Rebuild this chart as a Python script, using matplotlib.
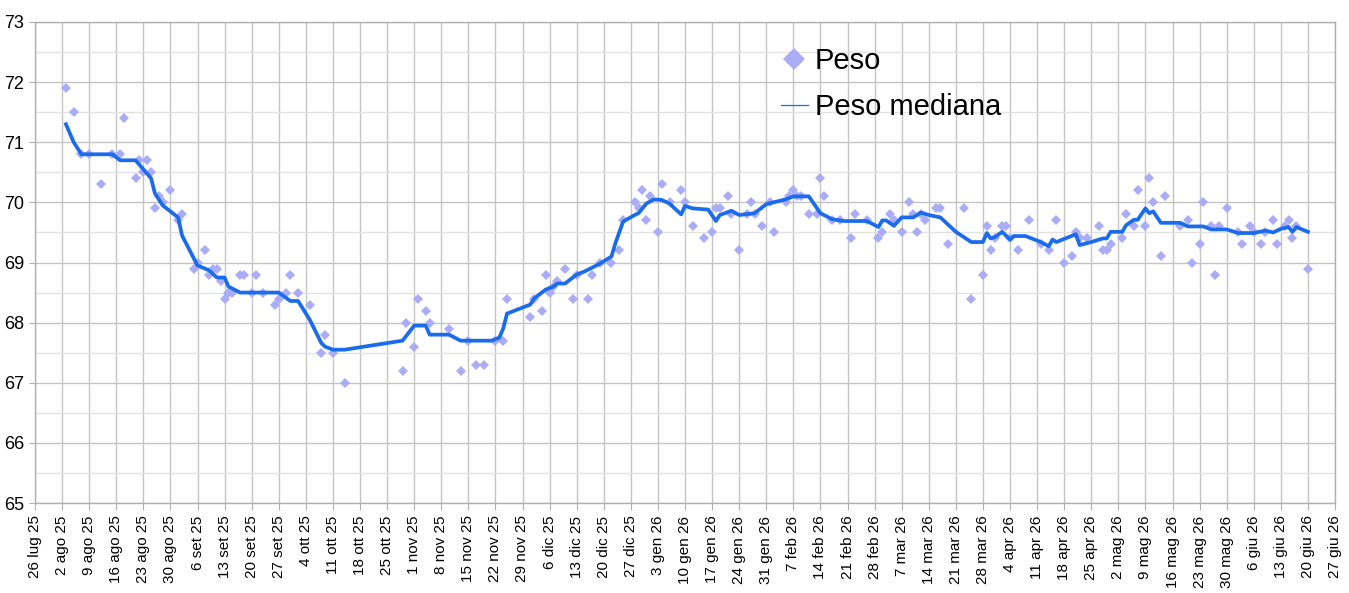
import datetime
import matplotlib
matplotlib.use("Agg")
import matplotlib.pyplot as plt
from matplotlib.ticker import MultipleLocator

# daily weigh-ins (date, kg)
peso_dates = [
    "2025-08-03", "2025-08-05", "2025-08-07", "2025-08-09", "2025-08-12", "2025-08-15",
    "2025-08-17", "2025-08-18", "2025-08-21", "2025-08-22", "2025-08-23", "2025-08-24",
    "2025-08-25", "2025-08-26", "2025-08-27", "2025-08-28", "2025-08-30", "2025-09-01",
    "2025-09-02", "2025-09-05", "2025-09-06", "2025-09-08", "2025-09-09", "2025-09-10",
    "2025-09-11", "2025-09-12", "2025-09-13", "2025-09-14", "2025-09-15", "2025-09-17",
    "2025-09-18", "2025-09-20", "2025-09-21", "2025-09-23", "2025-09-26", "2025-09-27",
    "2025-09-29", "2025-09-30", "2025-10-02", "2025-10-05", "2025-10-08", "2025-10-09",
    "2025-10-11", "2025-10-14", "2025-10-29", "2025-10-30", "2025-11-01", "2025-11-02",
    "2025-11-04", "2025-11-05", "2025-11-10", "2025-11-13", "2025-11-15", "2025-11-17",
    "2025-11-19", "2025-11-22", "2025-11-24", "2025-11-25", "2025-12-01", "2025-12-02",
    "2025-12-04", "2025-12-05", "2025-12-06", "2025-12-07", "2025-12-08", "2025-12-10",
    "2025-12-12", "2025-12-13", "2025-12-16", "2025-12-17", "2025-12-19", "2025-12-22",
    "2025-12-24", "2025-12-25", "2025-12-28", "2025-12-29", "2025-12-30", "2025-12-31",
    "2026-01-01", "2026-01-03", "2026-01-04", "2026-01-06", "2026-01-09", "2026-01-10",
    "2026-01-12", "2026-01-15", "2026-01-17", "2026-01-18", "2026-01-19", "2026-01-21",
    "2026-01-22", "2026-01-24", "2026-01-26", "2026-01-27", "2026-01-28", "2026-01-30",
    "2026-02-01", "2026-02-02", "2026-02-05", "2026-02-06", "2026-02-07", "2026-02-08",
    "2026-02-09", "2026-02-11", "2026-02-13", "2026-02-14", "2026-02-15", "2026-02-17",
    "2026-02-19", "2026-02-22", "2026-02-23", "2026-02-26", "2026-03-01", "2026-03-02",
    "2026-03-04", "2026-03-05", "2026-03-07", "2026-03-09", "2026-03-10", "2026-03-11",
    "2026-03-12", "2026-03-13", "2026-03-16", "2026-03-17", "2026-03-19", "2026-03-23",
    "2026-03-25", "2026-03-28", "2026-03-29", "2026-03-30", "2026-03-31", "2026-04-02",
    "2026-04-03", "2026-04-04", "2026-04-06", "2026-04-09", "2026-04-12", "2026-04-14",
    "2026-04-16", "2026-04-18", "2026-04-20", "2026-04-21", "2026-04-22", "2026-04-24",
    "2026-04-27", "2026-04-28", "2026-04-29", "2026-04-30", "2026-05-03", "2026-05-04",
    "2026-05-06", "2026-05-07", "2026-05-09", "2026-05-10", "2026-05-11", "2026-05-13",
    "2026-05-14", "2026-05-18", "2026-05-20", "2026-05-21", "2026-05-23", "2026-05-24",
    "2026-05-26", "2026-05-27", "2026-05-28", "2026-05-30", "2026-06-02", "2026-06-03",
    "2026-06-05", "2026-06-06", "2026-06-08", "2026-06-09", "2026-06-11", "2026-06-12",
    "2026-06-14", "2026-06-15", "2026-06-16", "2026-06-17", "2026-06-20",
]
peso = [
    71.9, 71.5, 70.8, 70.8, 70.3, 70.8,
    70.8, 71.4, 70.4, 70.7, 70.5, 70.7,
    70.5, 69.9, 70.1, 70.0, 70.2, 69.7,
    69.8, 68.9, 69.0, 69.2, 68.8, 68.9,
    68.9, 68.7, 68.4, 68.5, 68.5, 68.8,
    68.8, 68.5, 68.8, 68.5, 68.3, 68.4,
    68.5, 68.8, 68.5, 68.3, 67.5, 67.8,
    67.5, 67.0, 67.2, 68.0, 67.6, 68.4,
    68.2, 68.0, 67.9, 67.2, 67.7, 67.3,
    67.3, 67.7, 67.7, 68.4, 68.1, 68.4,
    68.2, 68.8, 68.5, 68.6, 68.7, 68.9,
    68.4, 68.8, 68.4, 68.8, 69.0, 69.0,
    69.2, 69.7, 70.0, 69.9, 70.2, 69.7,
    70.1, 69.5, 70.3, 70.0, 70.2, 70.0,
    69.6, 69.4, 69.5, 69.9, 69.9, 70.1,
    69.8, 69.2, 69.8, 70.0, 69.8, 69.6,
    70.0, 69.5, 70.0, 70.1, 70.2, 70.1,
    70.1, 69.8, 69.8, 70.4, 70.1, 69.7,
    69.7, 69.4, 69.8, 69.7, 69.4, 69.5,
    69.8, 69.7, 69.5, 70.0, 69.8, 69.5,
    69.8, 69.7, 69.9, 69.9, 69.3, 69.9,
    68.4, 68.8, 69.6, 69.2, 69.4, 69.6,
    69.6, 69.4, 69.2, 69.7, 69.3, 69.2,
    69.7, 69.0, 69.1, 69.5, 69.4, 69.4,
    69.6, 69.2, 69.2, 69.3, 69.4, 69.8,
    69.6, 70.2, 69.6, 70.4, 70.0, 69.1,
    70.1, 69.6, 69.7, 69.0, 69.3, 70.0,
    69.6, 68.8, 69.6, 69.9, 69.5, 69.3,
    69.6, 69.5, 69.3, 69.5, 69.7, 69.3,
    69.6, 69.7, 69.4, 69.6, 68.9,
]

# running median line
mediana_dates = [
    "2025-08-03", "2025-08-05", "2025-08-07", "2025-08-15", "2025-08-17", "2025-08-21",
    "2025-08-23", "2025-08-25", "2025-08-26", "2025-08-28", "2025-09-01", "2025-09-02",
    "2025-09-06", "2025-09-09", "2025-09-11", "2025-09-13", "2025-09-14", "2025-09-17",
    "2025-09-27", "2025-09-30", "2025-10-02", "2025-10-05", "2025-10-08", "2025-10-09",
    "2025-10-11", "2025-10-14", "2025-10-29", "2025-11-01", "2025-11-04", "2025-11-05",
    "2025-11-10", "2025-11-13", "2025-11-21", "2025-11-23", "2025-11-24", "2025-11-25",
    "2025-12-01", "2025-12-02", "2025-12-05", "2025-12-07", "2025-12-08", "2025-12-10",
    "2025-12-13", "2025-12-15", "2025-12-19", "2025-12-22", "2025-12-23", "2025-12-25",
    "2025-12-28", "2025-12-29", "2025-12-31", "2026-01-02", "2026-01-04", "2026-01-06",
    "2026-01-09", "2026-01-10", "2026-01-12", "2026-01-16", "2026-01-18", "2026-01-19",
    "2026-01-22", "2026-01-24", "2026-01-28", "2026-01-31", "2026-02-05", "2026-02-07",
    "2026-02-11", "2026-02-14", "2026-02-17", "2026-02-20", "2026-02-26", "2026-03-01",
    "2026-03-02", "2026-03-03", "2026-03-05", "2026-03-07", "2026-03-10", "2026-03-12",
    "2026-03-14", "2026-03-17", "2026-03-21", "2026-03-25", "2026-03-28", "2026-03-29",
    "2026-03-30", "2026-03-31", "2026-04-02", "2026-04-04", "2026-04-05", "2026-04-08",
    "2026-04-12", "2026-04-14", "2026-04-15", "2026-04-16", "2026-04-21", "2026-04-22",
    "2026-04-25", "2026-04-28", "2026-04-29", "2026-04-30", "2026-05-03", "2026-05-04",
    "2026-05-06", "2026-05-07", "2026-05-09", "2026-05-10", "2026-05-11", "2026-05-13",
    "2026-05-18", "2026-05-20", "2026-05-24", "2026-05-26", "2026-05-30", "2026-06-02",
    "2026-06-06", "2026-06-09", "2026-06-11", "2026-06-13", "2026-06-15", "2026-06-16",
    "2026-06-17", "2026-06-20",
]
mediana = [
    71.3, 71.0, 70.8, 70.8, 70.7, 70.7,
    70.55, 70.4, 70.15, 69.95, 69.75, 69.45,
    68.95, 68.87, 68.75, 68.75, 68.6, 68.5,
    68.5, 68.36, 68.36, 68.05, 67.66, 67.6,
    67.55, 67.55, 67.7, 67.95, 67.95, 67.8,
    67.8, 67.7, 67.7, 67.75, 67.9, 68.15,
    68.3, 68.4, 68.55, 68.6, 68.65, 68.65,
    68.8, 68.85, 68.98, 69.1, 69.32, 69.68,
    69.79, 69.82, 69.98, 70.05, 70.04, 69.98,
    69.8, 69.94, 69.9, 69.88, 69.69, 69.79,
    69.86, 69.79, 69.82, 69.97, 70.05, 70.1,
    70.1, 69.82, 69.72, 69.69, 69.69, 69.59,
    69.7, 69.7, 69.61, 69.75, 69.75, 69.83,
    69.79, 69.75, 69.51, 69.34, 69.34, 69.49,
    69.4, 69.42, 69.51, 69.38, 69.44, 69.44,
    69.34, 69.27, 69.38, 69.34, 69.47, 69.29,
    69.34, 69.4, 69.4, 69.51, 69.51, 69.62,
    69.71, 69.71, 69.9, 69.82, 69.85, 69.66,
    69.66, 69.6, 69.6, 69.55, 69.55, 69.49,
    69.49, 69.53, 69.5, 69.56, 69.59, 69.51,
    69.59, 69.51,
]

mesi = ["gen", "feb", "mar", "apr", "mag", "giu", "lug", "ago", "set", "ott", "nov", "dic"]

def to_date(s):
    return datetime.datetime.strptime(s, "%Y-%m-%d")

# weekly ticks from 26 lug 25 to 27 giu 26
x_start = datetime.datetime(2025, 7, 26)
x_end = datetime.datetime(2026, 6, 27)
ticks = []
t = x_start
while t <= x_end:
    ticks.append(t)
    t += datetime.timedelta(days=7)
tick_labels = [f"{d.day} {mesi[d.month - 1]} {d.strftime('%y')}" for d in ticks]

plt.rcParams['font.family'] = ['Liberation Sans', 'DejaVu Sans']

fig = plt.figure(figsize=(13.49, 5.93), dpi=100)
ax = fig.add_axes([35 / 1349, 90 / 593, 1300 / 1349, 481 / 593])

ax.plot([to_date(d) for d in peso_dates], peso, linestyle='none', marker='D',
        markersize=5.5, color='#abacf7', markeredgewidth=0, label='Peso', zorder=3)
ax.plot([to_date(d) for d in mediana_dates], mediana, color='#1b6cec', linewidth=2.7,
        label='Peso mediana', zorder=4)

ax.set_xlim(x_start, x_end)
ax.set_ylim(65, 73)
ax.set_xticks(ticks)
ax.set_xticklabels(tick_labels, rotation=90, fontsize=11)
ax.yaxis.set_major_locator(MultipleLocator(1))
ax.yaxis.set_minor_locator(MultipleLocator(0.5))
ax.tick_params(axis='y', labelsize=13, length=4, color='#b0b0b0', pad=4)
ax.tick_params(axis='y', which='minor', length=0)
ax.tick_params(axis='x', length=5, color='#b0b0b0', pad=4)

ax.grid(True, which='major', axis='both', color='#c4c4c4', linewidth=1)
ax.grid(True, which='minor', axis='y', color='#e2e2e2', linewidth=1)
ax.set_axisbelow(True)
for s in ax.spines.values():
    s.set_color('#b0b0b0')
    s.set_linewidth(1)

leg = fig.legend(loc='upper left', bbox_to_anchor=(755 / 1349, 1 - 21 / 593), frameon=False,
                 fontsize=21, handlelength=0.9, handletextpad=0.25, labelspacing=0.6,
                 markerscale=2.1)
# thin line in the legend key
leg.legend_handles[1].set_linewidth(0.9)

fig.savefig('out.png', dpi=100)
